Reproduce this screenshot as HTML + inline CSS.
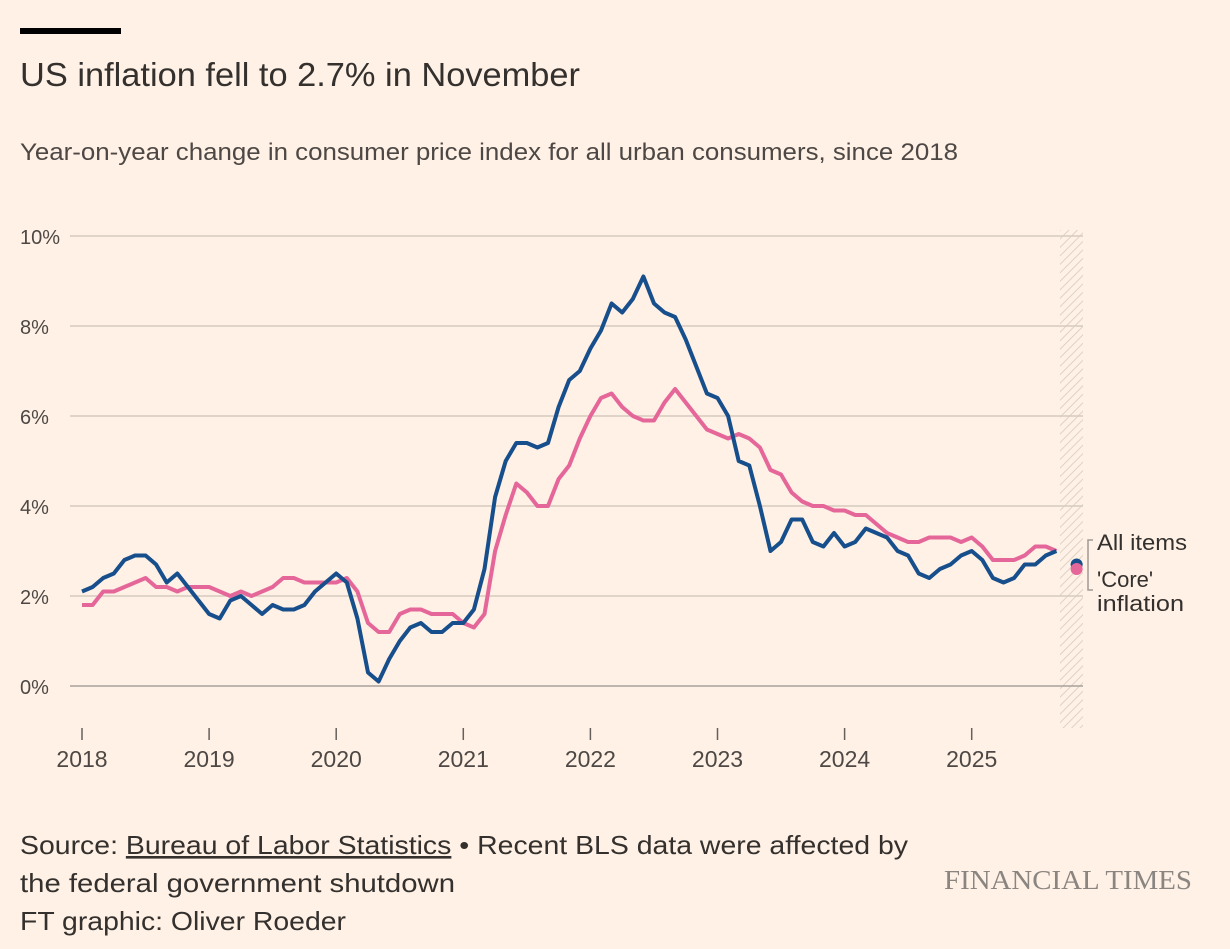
<!DOCTYPE html>
<html><head><meta charset="utf-8">
<style>
body{margin:0;background:#fff1e5;width:1230px;height:949px;overflow:hidden;font-family:"Liberation Sans",sans-serif;color:#33302e}
svg{position:absolute;left:0;top:0}
</style></head>
<body>
<svg width="1230" height="949">
<defs><pattern id="hatch" width="6" height="6" patternUnits="userSpaceOnUse" patternTransform="rotate(45)"><line x1="0" y1="0" x2="0" y2="6" stroke="#ddd2c6" stroke-width="2"/></pattern></defs>
<rect x="20" y="28" width="101" height="6" fill="#000"/>
<text x="20" y="86" font-size="33" textLength="560" lengthAdjust="spacingAndGlyphs" fill="#33302e">US inflation fell to 2.7% in November</text>
<text x="20" y="160" font-size="24" textLength="938" lengthAdjust="spacingAndGlyphs" fill="#4d4845">Year-on-year change in consumer price index for all urban consumers, since 2018</text>
<rect x="1060" y="230" width="23" height="498" fill="url(#hatch)"/>
<g id="grid"></g><g id="xaxis"></g><g id="lines"></g>
<g>
<path d="M1093,540 h-5 v50 h5" fill="none" stroke="#a09a93" stroke-width="1.5"/>
<text x="1097" y="550" font-size="22" textLength="90" lengthAdjust="spacingAndGlyphs" fill="#33302e">All items</text>
<text x="1097" y="587" font-size="22" fill="#33302e">'Core'</text>
<text x="1097" y="611" font-size="22" textLength="87" lengthAdjust="spacingAndGlyphs" fill="#33302e">inflation</text>
</g>
<text x="20" y="854" font-size="26" textLength="888" lengthAdjust="spacingAndGlyphs" fill="#33302e">Source: <tspan text-decoration="underline">Bureau of Labor Statistics</tspan> • Recent BLS data were affected by</text>
<text x="20" y="892" font-size="26" textLength="435" lengthAdjust="spacingAndGlyphs" fill="#33302e">the federal government shutdown</text>
<text x="20" y="930" font-size="26" textLength="326" lengthAdjust="spacingAndGlyphs" fill="#33302e">FT graphic: Oliver Roeder</text>
<text x="1192" y="889" font-size="27" textLength="248" lengthAdjust="spacingAndGlyphs" text-anchor="end" fill="#8a8580" font-family="Liberation Serif, serif">FINANCIAL TIMES</text>
</svg>
<script>
const allItems=[2.1,2.2,2.4,2.5,2.8,2.9,2.9,2.7,2.3,2.5,2.2,1.9,
1.6,1.5,1.9,2.0,1.8,1.6,1.8,1.7,1.7,1.8,2.1,2.3,
2.5,2.3,1.5,0.3,0.1,0.6,1.0,1.3,1.4,1.2,1.2,1.4,
1.4,1.7,2.6,4.2,5.0,5.4,5.4,5.3,5.4,6.2,6.8,7.0,
7.5,7.9,8.5,8.3,8.6,9.1,8.5,8.3,8.2,7.7,7.1,6.5,
6.4,6.0,5.0,4.9,4.0,3.0,3.2,3.7,3.7,3.2,3.1,3.4,
3.1,3.2,3.5,3.4,3.3,3.0,2.9,2.5,2.4,2.6,2.7,2.9,
3.0,2.8,2.4,2.3,2.4,2.7,2.7,2.9,3.0];
const core=[1.8,1.8,2.1,2.1,2.2,2.3,2.4,2.2,2.2,2.1,2.2,2.2,
2.2,2.1,2.0,2.1,2.0,2.1,2.2,2.4,2.4,2.3,2.3,2.3,
2.3,2.4,2.1,1.4,1.2,1.2,1.6,1.7,1.7,1.6,1.6,1.6,
1.4,1.3,1.6,3.0,3.8,4.5,4.3,4.0,4.0,4.6,4.9,5.5,
6.0,6.4,6.5,6.2,6.0,5.9,5.9,6.3,6.6,6.3,6.0,5.7,
5.6,5.5,5.6,5.5,5.3,4.8,4.7,4.3,4.1,4.0,4.0,3.9,
3.9,3.8,3.8,3.6,3.4,3.3,3.2,3.2,3.3,3.3,3.3,3.2,
3.3,3.1,2.8,2.8,2.8,2.9,3.1,3.1,3.0];
const novValues=[2.7,2.6];
const yTicks=[0,2,4,6,8,10];
const xYears=[2018,2019,2020,2021,2022,2023,2024,2025];
const NS="http://www.w3.org/2000/svg";
const X=m=>82+m*(127.1/12);
const Y=v=>686-v*45;
function mk(t,a,p){const e=document.createElementNS(NS,t);for(const k in a)e.setAttribute(k,a[k]);p.appendChild(e);return e;}
const grid=document.getElementById('grid');
yTicks.forEach(v=>{
 const l=mk('line',{x1:v===0?20:70,x2:1083,y1:Y(v),y2:Y(v),stroke:v===0?'#a8a29b':'#d6cbc0','stroke-width':1.5},grid);
 
 
 if(v===0) l.setAttribute('x1',70);
 const t=mk('text',{x:20,y:Y(v)+8,'font-size':20,fill:'#4d4845'},grid);t.textContent=v+'%';
 
 
});
const xa=document.getElementById('xaxis');
xYears.forEach((yr,i)=>{
 const x=X(i*12);
 const l=mk('line',{x1:x,x2:x,y1:728,y2:740,stroke:'#66605c','stroke-width':1.5},xa);
 
 
 const t=mk('text',{x:x,y:767,'font-size':23,fill:'#4d4845','text-anchor':'middle'},xa);t.textContent=yr;
 
 
});
const g=document.getElementById('lines');
function line(d,c,n){const p=mk('path',{d:d.map((v,i)=>(i?'L':'M')+X(i).toFixed(1)+','+Y(v).toFixed(1)).join(''),fill:'none',stroke:c,'stroke-width':4,'stroke-linejoin':'round'},g);
 
 }
line(core,'#e5679a','core-line');
line(allItems,'#174e8c','all-items-line');
const d1=mk('circle',{cx:X(94)-1,cy:Y(novValues[0]),r:6,fill:'#174e8c'},g);


const d2=mk('circle',{cx:X(94)-1,cy:Y(novValues[1]),r:6,fill:'#e5679a'},g);


</script>
</body></html>
